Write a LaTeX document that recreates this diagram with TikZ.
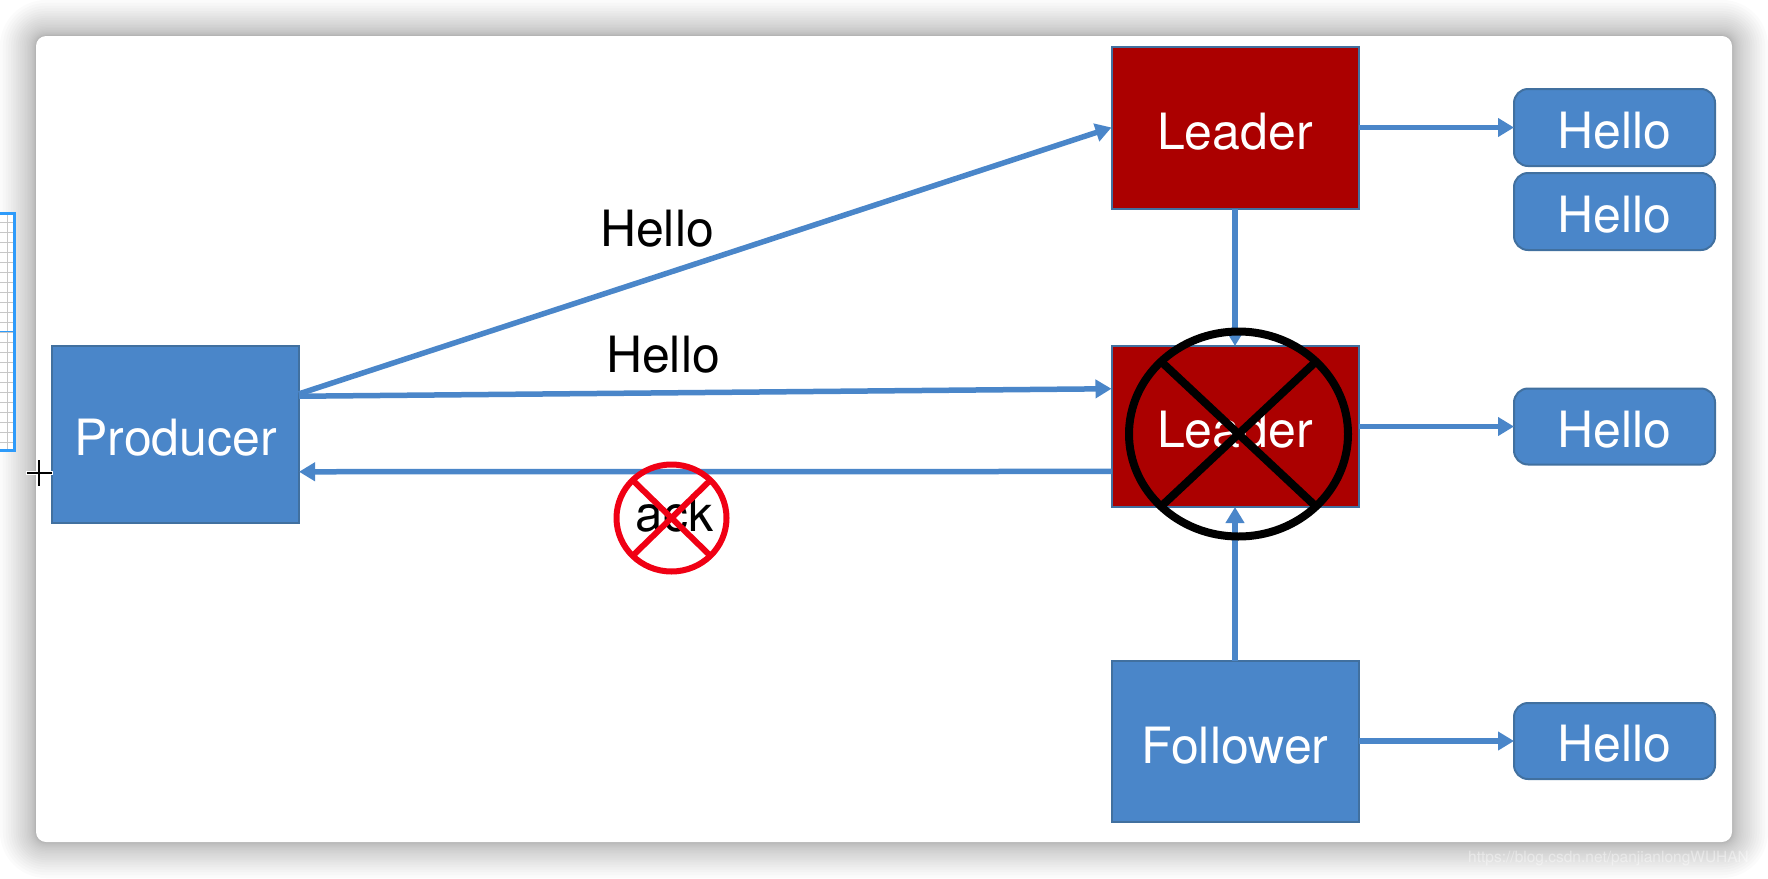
\documentclass[tikz,border=0pt]{standalone}
\usepackage{fontspec}
\setmainfont{TeX Gyre Heros}
\usetikzlibrary{arrows.meta}
\usetikzlibrary{shapes.geometric}
\definecolor{boxblue}{HTML}{4A86C9}
\definecolor{boxedge}{HTML}{41709F}
\definecolor{leaderred}{HTML}{AB0000}
\definecolor{gridblue}{HTML}{2E9BFA}
\definecolor{crossred}{HTML}{F00014}

\begin{document}
\begin{tikzpicture}[x=1pt,y=-1pt]
	\useasboundingbox (0,0) rectangle (1768,878);

	% window shadow and panel
	\foreach \i in {1,...,24} {
		\pgfmathsetmacro{\r}{\i*\i/16}
		\fill[black,opacity=0.015,rounded corners=10pt+\r pt] (36-\r,36-\r) rectangle (1732+\r,842+\r);
	}
	\fill[white,rounded corners=10pt] (36,36) rectangle (1732,842);

	% sliver of the window behind
	\fill[white] (0,212) rectangle (15,452);
	\foreach \y in {222,232,...,442}
		\draw[black!22,line width=0.8pt] (0,\y) -- (13,\y);
	\draw[black!22,line width=0.8pt] (7,215) -- (7,449);
	\draw[gridblue,line width=1pt] (0,331) -- (13,331);
	\draw[gridblue,line width=3pt] (0,213.5) -- (14,213.5) -- (14,450.5) -- (0,450.5);

	\begin{scope}[every node/.style={rectangle,draw=boxedge,fill=boxblue,line width=2pt,text=white,
	              outer sep=0pt,inner sep=0pt,text height=41pt,text depth=0pt,font=\fontsize{50}{50}\selectfont}]
		\node[minimum width=247pt,minimum height=177pt,text height=42pt] (producer) at (175.5,434) {Producer};
		\node[minimum width=247pt,minimum height=162pt,fill=leaderred,text height=43pt] (leaderA) at (1235,127.5) {Leader};
		\node[minimum width=247pt,minimum height=161pt,fill=leaderred] (leaderB) at (1235,426.5) {Leader};
		\node[minimum width=247pt,minimum height=161pt,text height=44pt] (follower) at (1235,741) {Follower};
		\node[minimum width=201pt,minimum height=77pt,rounded corners=14pt] (helloA) at (1614.5,127.5) {Hello};
		\node[minimum width=201pt,minimum height=77pt,rounded corners=14pt] (helloB) at (1614.5,211.5) {Hello};
		\node[minimum width=201pt,minimum height=76pt,rounded corners=14pt] (helloC) at (1614.5,426.5) {Hello};
		\node[minimum width=201pt,minimum height=76pt,rounded corners=14pt] (helloD) at (1614.5,741) {Hello};
	\end{scope}

	\begin{scope}[>={Triangle[length=16pt,width=18pt]},line width=5.5pt,draw=boxblue,color=boxblue]
		\draw[->] (producer.18.6) -- (leaderA.west);
		\draw[->] (producer.17) -- (leaderB.163.7);
		\draw[->] (leaderB.200.9) -- (producer.-17.9);
		\draw[->] (leaderA.south) -- (leaderB.north);
		\draw[->] (follower.north) -- (leaderB.south);
		\draw[->] (leaderA.east) -- (helloA.west);
		\draw[->] (leaderB.east) -- (helloC.west);
		\draw[->] (follower.east) -- (helloD.west);
	\end{scope}

	\begin{scope}[every node/.style={font=\fontsize{50}{50}\selectfont,text=black,inner sep=0pt}]
		\node (msgA) at (657,229) {Hello};
		\node (msgB) at (663,355) {Hello};
		\node (ack) at (674.5,514) {ack};
	\end{scope}

	\node[ellipse,draw=black,line width=8pt,inner sep=0pt,outer sep=0pt,
	      minimum width=219pt,minimum height=205pt] (stopB) at (1238.5,434) {};
	\draw[black,line width=8pt] (stopB.north west) -- (stopB.south east);
	\draw[black,line width=8pt] (stopB.north east) -- (stopB.south west);

	\node[ellipse,draw=crossred,line width=6pt,inner sep=0pt,outer sep=0pt,
	      minimum width=110pt,minimum height=107pt] (stopAck) at (671.5,518) {};
	\draw[crossred,line width=6pt] (stopAck.north west) -- (stopAck.south east);
	\draw[crossred,line width=6pt] (stopAck.north east) -- (stopAck.south west);

	% mouse cursor
	\draw[white,line width=3.5pt] (26,473) -- (53,473) (39,459) -- (39,487);
	\draw[black,line width=1.6pt] (27,473) -- (52,473) (39,460) -- (39,486);

	\node[text=white,opacity=0.4,font=\fontsize{15.5}{15.5}\selectfont,anchor=west,inner sep=0pt] (mark) at (1468,859) {https://blog.csdn.net/panjianlongWUHAN};
\end{tikzpicture}
\end{document}
